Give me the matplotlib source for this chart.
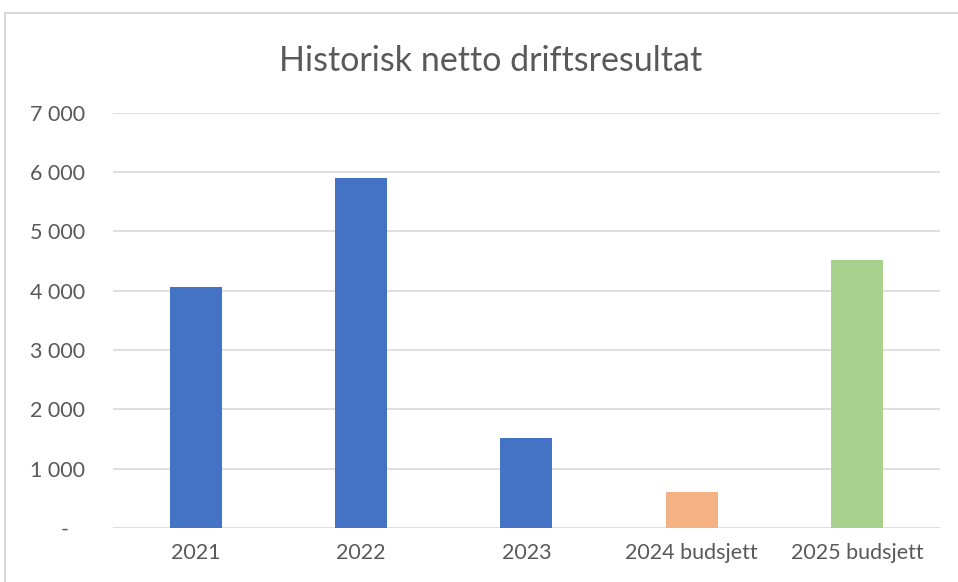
import matplotlib.pyplot as plt
from matplotlib.patches import Rectangle
from matplotlib.ticker import FuncFormatter

plt.rcParams['font.family'] = ['Lato', 'DejaVu Sans']

categories = ['2021', '2022', '2023', '2024 budsjett', '2025 budsjett']
values = [4070, 5900, 1525, 600, 4520]
colors = ['#4472C4', '#4472C4', '#4472C4', '#F4B183', '#A9D18E']
yticks = [0, 1000, 2000, 3000, 4000, 5000, 6000, 7000]

fig = plt.figure(figsize=(9.58, 5.82), dpi=100)
ax = fig.add_axes([0.118, 0.0928, 0.863, 0.7136])

x = range(len(categories))
ax.bar(x, values, width=0.315, color=colors, zorder=3)

ax.set_xlim(-0.5, len(categories) - 0.5)
ax.set_ylim(0, 7000)
ax.set_yticks(yticks)
ax.set_xticks(list(x))
ax.set_xticklabels(categories)


def fmt(v, pos):
    if v == 0:
        return '-   '
    return f'{int(v):,}'.replace(',', ' ')


ax.yaxis.set_major_formatter(FuncFormatter(fmt))
ax.grid(axis='y', color='#d9d9d9', linewidth=1.2, zorder=0)
for s in ax.spines.values():
    s.set_visible(False)
ax.tick_params(axis='both', length=0, labelsize=15.5, colors='#595959')
ax.tick_params(axis='y', pad=20)
ax.tick_params(axis='x', pad=11)

fig.text(0.512, 0.895, 'Historisk netto driftsresultat', ha='center', va='center',
         fontsize=24.5, color='#595959')

# chart frame
fig.patches.append(Rectangle((5 / 958, -0.1), 1.2, 0.1 + 1 - 13 / 582,
                             transform=fig.transFigure, fill=False,
                             edgecolor='#d9d9d9', linewidth=1.5))

fig.savefig('out.png', dpi=100)
